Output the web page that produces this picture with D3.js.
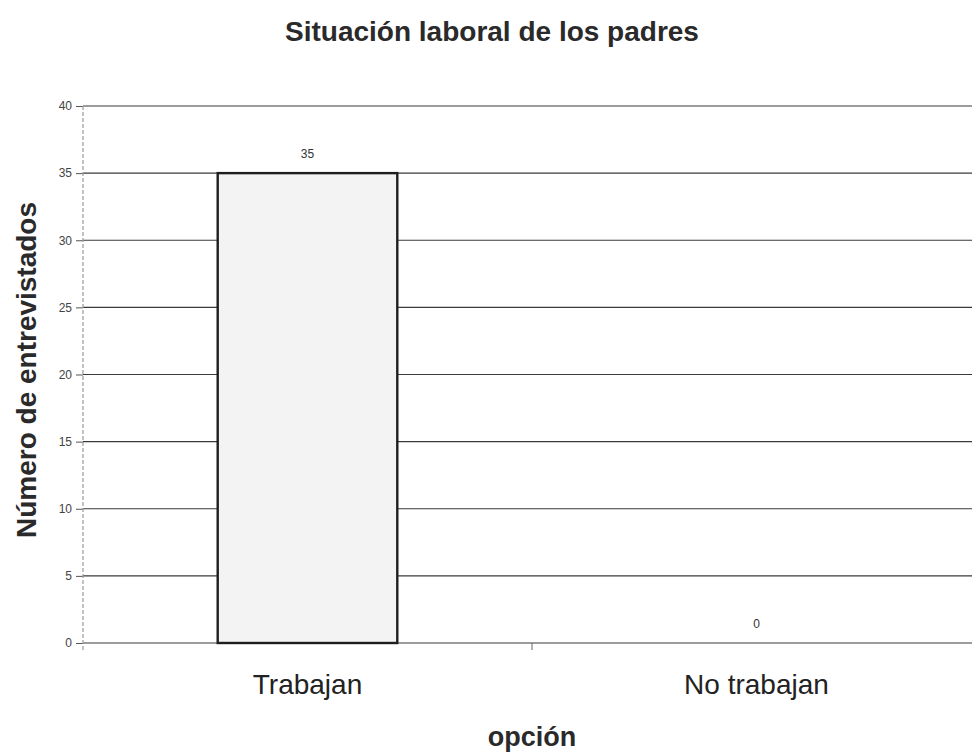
<!DOCTYPE html>
<html>
<head>
<meta charset="utf-8">
<script src="https://cdn.jsdelivr.net/npm/d3@7"></script>
<style>
  html, body { margin: 0; padding: 0; background: #fff; }
  svg { display: block; font-family: "Liberation Sans", Arial, sans-serif; }
</style>
</head>
<body>
<svg id="chart" width="972" height="756"></svg>
<script>
// Labour situation of the parents: number of respondents per option
const categories = ["Trabajan", "No trabajan"];
const values = [35, 0];
const yTicks = [0, 5, 10, 15, 20, 25, 30, 35, 40];

const chartTitle = "Situación laboral de los padres";
const xTitle = "opción";
const yTitle = "Número de entrevistados";

const svg = d3.select("#chart");
const W = 972, H = 756;
const plot = { left: 83, right: 981, top: 106, bottom: 643 };

const x = d3.scaleBand().domain(categories).range([plot.left, plot.right]).padding(0);
const y = d3.scaleLinear().domain([0, 40]).range([plot.bottom, plot.top]);

// Horizontal grid lines
svg.append("g")
  .selectAll("line")
  .data(yTicks)
  .join("line")
  .attr("x1", plot.left)
  .attr("x2", W)
  .attr("y1", d => y(d))
  .attr("y2", d => y(d))
  .attr("stroke", "#3a3a3a")
  .attr("stroke-width", 1.2);

// Y axis (dashed vertical line, short ticks and labels)
const yAxis = svg.append("g")
  .attr("transform", `translate(${plot.left},0)`)
  .call(d3.axisLeft(y).tickValues(yTicks).tickSize(7).tickPadding(4));
yAxis.select(".domain").remove();
yAxis.selectAll(".tick line").attr("stroke", "#555").attr("stroke-width", 1);
yAxis.selectAll(".tick text")
  .attr("fill", "#444")
  .style("font-size", "12px")
  .style("font-family", "\"Liberation Sans\", Arial, sans-serif");
svg.append("line")
  .attr("x1", plot.left).attr("x2", plot.left)
  .attr("y1", plot.top).attr("y2", plot.bottom + 8)
  .attr("stroke", "#9a9a9a")
  .attr("stroke-width", 1.2)
  .attr("stroke-dasharray", "4,2");

// Category separator tick on the x axis
svg.append("g")
  .selectAll("line")
  .data(categories.slice(1))
  .join("line")
  .attr("x1", d => x(d)).attr("x2", d => x(d))
  .attr("y1", plot.bottom).attr("y2", plot.bottom + 7)
  .attr("stroke", "#666")
  .attr("stroke-width", 1);

// Bars
const barW = x.bandwidth() * 0.4;
svg.append("g")
  .selectAll("rect")
  .data(categories)
  .join("rect")
  .attr("x", d => x(d) + (x.bandwidth() - barW) / 2)
  .attr("width", barW)
  .attr("y", (d, i) => y(values[i]))
  .attr("height", (d, i) => y(0) - y(values[i]))
  .attr("fill", "#f3f3f3")
  .attr("stroke", (d, i) => values[i] > 0 ? "#1e1e1e" : "none")
  .attr("stroke-width", 2.4);

// Value labels
svg.append("g")
  .selectAll("text")
  .data(categories)
  .join("text")
  .attr("x", d => x(d) + x.bandwidth() / 2)
  .attr("y", (d, i) => y(values[i]) - 15)
  .attr("text-anchor", "middle")
  .attr("fill", "#333")
  .style("font-size", "12px")
  .text((d, i) => values[i]);

// Category labels
svg.append("g")
  .selectAll("text")
  .data(categories)
  .join("text")
  .attr("x", d => x(d) + x.bandwidth() / 2)
  .attr("y", 694)
  .attr("text-anchor", "middle")
  .attr("fill", "#222")
  .style("font-size", "28px")
  .text(d => d);

// Titles
svg.append("text")
  .attr("x", 492).attr("y", 41)
  .attr("text-anchor", "middle")
  .attr("fill", "#2a2a2a")
  .style("font-size", "28px")
  .style("font-weight", "bold")
  .text(chartTitle);

svg.append("text")
  .attr("x", 532).attr("y", 746)
  .attr("text-anchor", "middle")
  .attr("fill", "#2a2a2a")
  .style("font-size", "27px")
  .style("font-weight", "bold")
  .text(xTitle);

svg.append("text")
  .attr("transform", "translate(36,370) rotate(-90)")
  .attr("text-anchor", "middle")
  .attr("fill", "#2a2a2a")
  .style("font-size", "28px")
  .style("font-weight", "bold")
  .text(yTitle);
</script>
</body>
</html>
